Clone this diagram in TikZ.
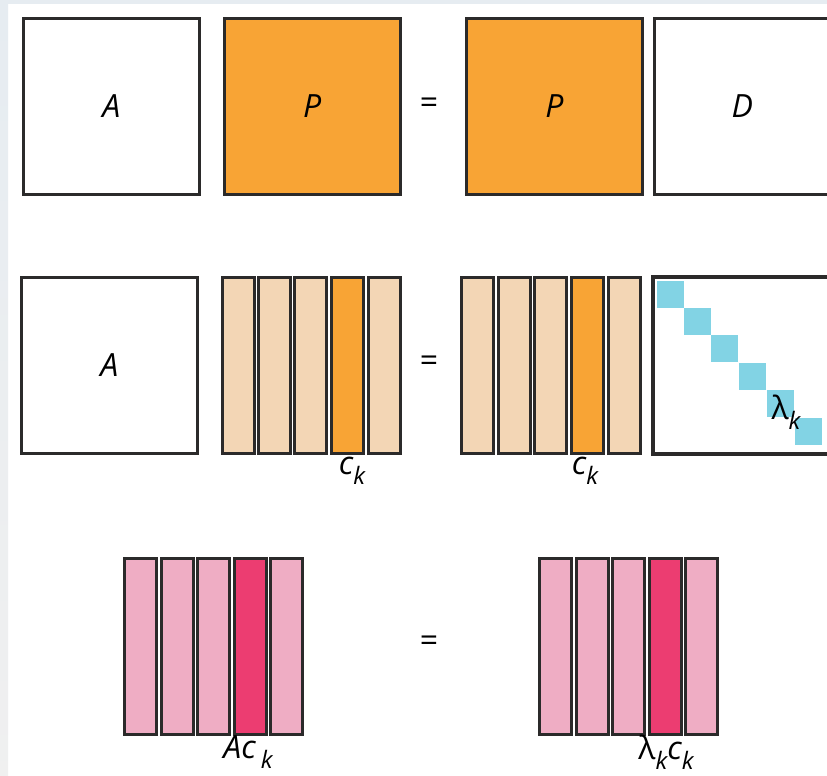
\documentclass[tikz,border=0pt]{standalone}
\usepackage{fontspec}
\setmainfont{Open Sans}
\definecolor{edge}{HTML}{2B2A2A}
\definecolor{orng}{HTML}{F8A435}
\definecolor{peach}{HTML}{F3D6B5}
\definecolor{pinkl}{HTML}{EFADC4}
\definecolor{pinkd}{HTML}{EC3D71}
\definecolor{cyanb}{HTML}{82D3E4}
\definecolor{strip}{HTML}{E6ECF1}
\newcommand{\subk}{\raisebox{-0.3em}{\fontsize{24}{26}\selectfont k}}
\begin{document}
\begin{tikzpicture}[x=1pt,y=-1pt,
  cell/.style={draw=edge, line width=2.6pt, anchor=north west, inner sep=0pt},
  sq/.style={cell, minimum width=176pt, minimum height=176pt, font=\fontsize{32}{34}\selectfont\itshape},
  col/.style={cell, minimum width=32pt, minimum height=176pt},
  dg/.style={fill=cyanb, anchor=north west, inner sep=0pt, minimum width=27pt, minimum height=27pt},
  lbl/.style={inner sep=0pt, font=\fontsize{32}{34}\selectfont\itshape},
  eq/.style={inner sep=0pt, font=\fontsize{32}{34}\selectfont}
]
\useasboundingbox (0,0) rectangle (827,776);
\clip (0,0) rectangle (827,776);
\fill[white] (0,0) rectangle (827,776);
\shade[top color=strip, bottom color=black!6] (0,0) rectangle (8,776);
\fill[strip] (0,0) rectangle (827,4);

% Row 1
\node[sq, fill=white] (A1) at (22,17) {A};
\node[sq, fill=orng] (P1) at (223,17) {P};
\node[eq] (e1) at (429,106) {=};
\node[sq, fill=orng] (P2) at (465,17) {P};
\node[sq, fill=white] (D1) at (653,17) {D};

% Row 2
\node[sq, fill=white] (A2) at (20,276) {A};
\foreach \i/\x/\c in {1/221/peach,2/257/peach,3/293/peach,4/330/orng,5/367/peach}
  \node[col, fill=\c] (L\i) at (\x,276) {};
\node[eq] (e2) at (429,364) {=};
\foreach \i/\x/\c in {1/460/peach,2/497/peach,3/533/peach,4/570/orng,5/607/peach}
  \node[col, fill=\c] (R\i) at (\x,276) {};
\node[sq, fill=white] (D2) at (652,276) {};
\foreach \i/\x/\y in {1/657/281,2/684/308,3/711/335,4/739/363,5/767/390,6/795/418}
  \node[dg] (d\i) at (\x,\y) {};
\draw[edge, line width=2.6pt] (D2.north west) rectangle (D2.south east);
\node[lbl] (lam) at (786,412) {{\upshape λ}\subk};
\node[lbl] (ck1) at (352,471) {c\subk};
\node[lbl] (ck2) at (585,471) {c\subk};

% Row 3
\foreach \i/\x/\c in {1/123/pinkl,2/160/pinkl,3/196/pinkl,4/233/pinkd,5/269/pinkl}
  \node[col, fill=\c] (M\i) at (\x,557) {};
\node[eq] (e3) at (429,644) {=};
\foreach \i/\x/\c in {1/538/pinkl,2/575/pinkl,3/611/pinkl,4/648/pinkd,5/684/pinkl}
  \node[col, fill=\c] (N\i) at (\x,557) {};
\node[lbl] (ack) at (248,752) {Ac\hspace{5pt}\subk};
\node[lbl] (lck) at (666,752) {{\upshape λ}\subk c\subk};
\end{tikzpicture}
\end{document}
